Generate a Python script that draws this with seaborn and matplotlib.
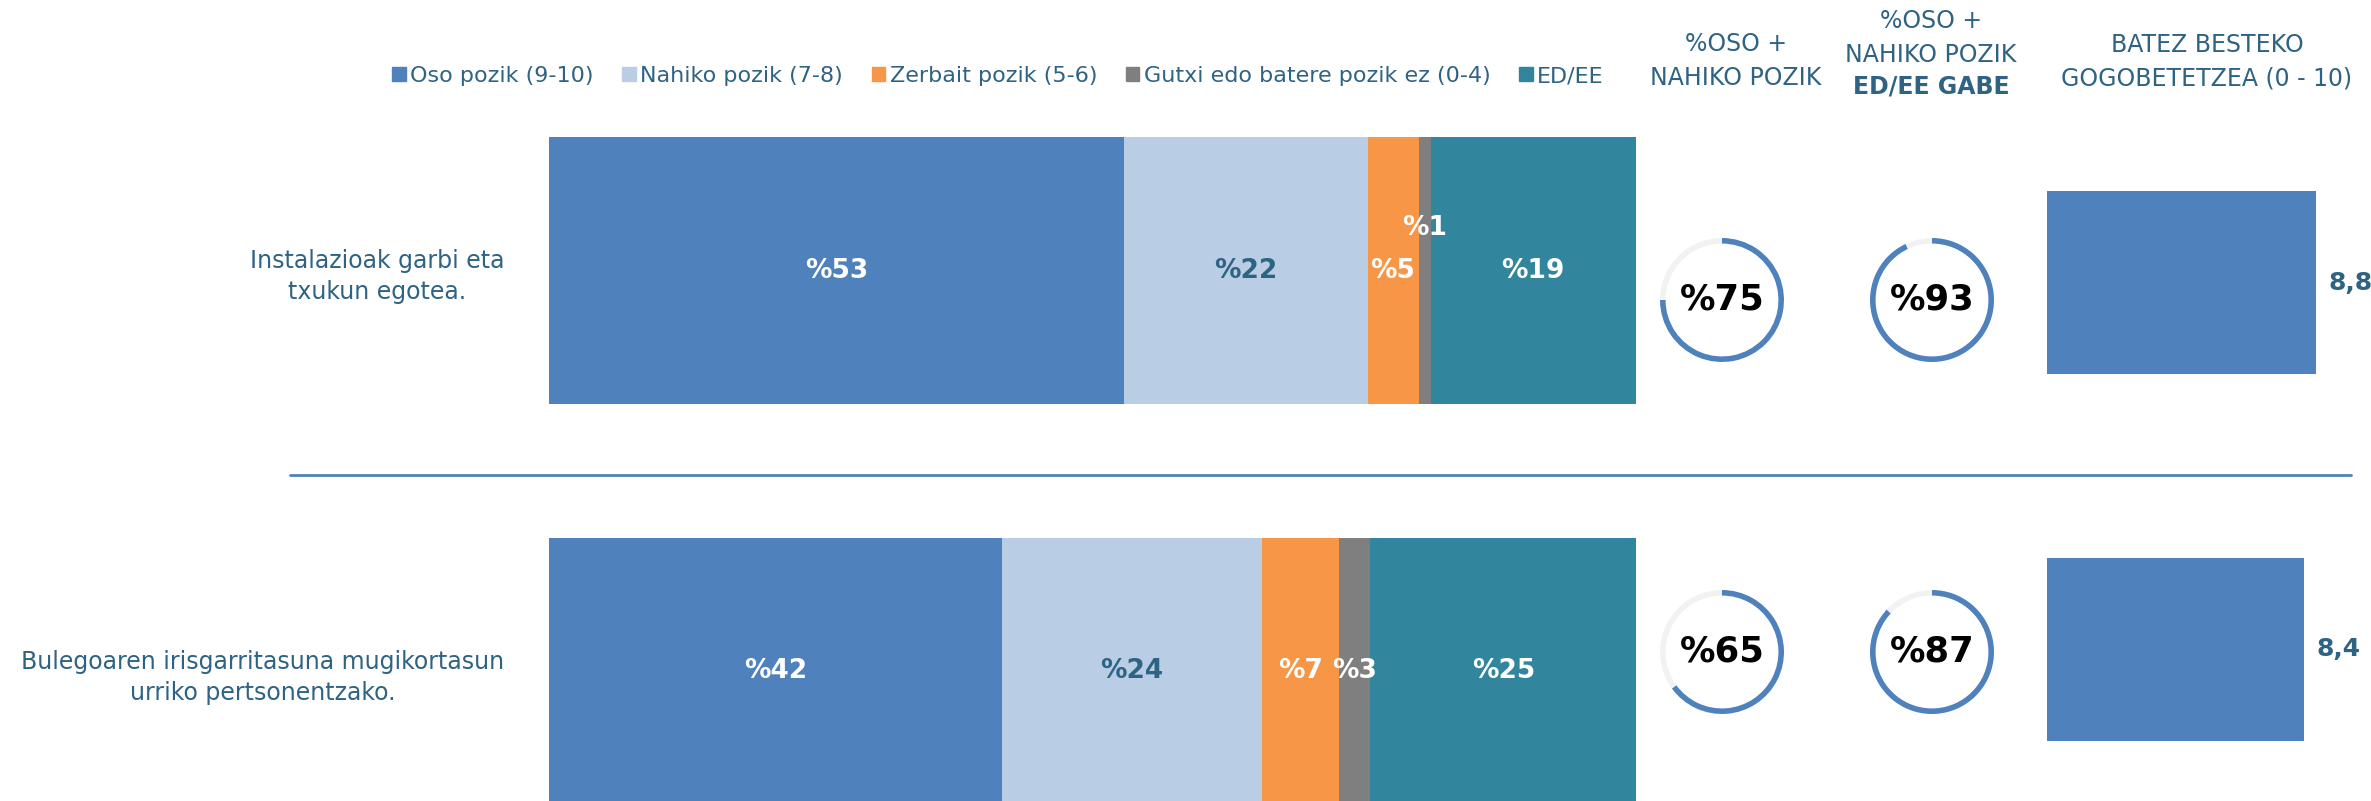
import numpy as np
import pandas as pd
import seaborn as sns
import matplotlib.pyplot as plt
from matplotlib.patches import Patch

# data
categories = ["Instalazioak garbi eta\ntxukun egotea.",
              "Bulegoaren irisgarritasuna mugikortasun\nurriko pertsonentzako."]
segments = ["Oso pozik (9-10)", "Nahiko pozik (7-8)", "Zerbait pozik (5-6)",
            "Gutxi edo batere pozik ez (0-4)", "ED/EE"]
oso = [52.9, 41.7]
nahiko = [22.4, 23.9]
zerbait = [4.7, 7.1]
gutxi = [1.1, 2.8]
ed_ee = [18.9, 24.6]
pct_oso_nahiko = [75, 65]
pct_gabe = [93, 87]
means = [8.8, 8.4]

colors = ["#4F81BD", "#B9CDE5", "#F79646", "#7F7F7F", "#31859C"]
label_colors = ["white", "#2E6384", "white", "white", "white"]
txt = "#2E6384"

W, H = 2371, 801
sns.set_theme(style="white")
plt.rcParams["font.family"] = ["DejaVu Sans"]

fig = plt.figure(figsize=(W / 100, H / 100), dpi=100)


def box(x0, y0, x1, y1):
    # pixel box -> figure fraction rect
    return [x0 / W, 1 - y1 / H, (x1 - x0) / W, (y1 - y0) / H]


df = pd.DataFrame({"cat": categories, "oso": oso, "nahiko": nahiko,
                   "zerbait": zerbait, "gutxi": gutxi, "ed_ee": ed_ee})
cols = ["oso", "nahiko", "zerbait", "gutxi", "ed_ee"]
cum = df[cols].cumsum(axis=1)

# stacked bars (cumulative totals drawn back to front)
ax = fig.add_axes(box(549, 0, 1636, H))
for k in range(len(cols) - 1, -1, -1):
    sns.barplot(x=cum[cols[k]], y=df["cat"], color=colors[k], saturation=1,
                width=0.666, linewidth=0, ax=ax, orient="h")
ax.set_xlim(0, 100)
ax.set_ylim((H - 270.5) / 401, -270.5 / 401)
ax.set_xlabel("")
ax.set_ylabel("")
ax.set_xticks([])
ax.tick_params(axis="y", length=0, pad=32, labelsize=17, labelcolor=txt)
for t in ax.get_yticklabels():
    t.set_multialignment("center")
    t.set_linespacing(1.35)
sns.despine(ax=ax, left=True, bottom=True)

for i in range(len(categories)):
    start = 0
    for k, c in enumerate(cols):
        v = df[c][i]
        yoff = -0.105 if (v < 2 and i == 0) else 0
        ax.text(start + v / 2, i + yoff, f"%{round(v)}", ha="center", va="center",
                color=label_colors[k], fontsize=19, fontweight="bold")
        start += v

# legend
handles = [Patch(color=c) for c in colors]
fig.legend(handles, segments, loc="center", bbox_to_anchor=(998 / W, 1 - 76 / H),
           ncol=5, frameon=False, fontsize=16, labelcolor=txt,
           handlelength=0.6, handleheight=0.6, handletextpad=0.2, columnspacing=1.3)

# headers
hkw = dict(ha="center", va="center", color=txt, fontsize=17, linespacing=1.5)
fig.text(1736 / W, 1 - 61 / H, "%OSO +\nNAHIKO POZIK", **hkw)
fig.text(1931 / W, 1 - 38 / H, "%OSO +\nNAHIKO POZIK", **hkw)
fig.text(1931 / W, 1 - 87 / H, "ED/EE GABE", ha="center", va="center",
         color=txt, fontsize=17, fontweight="bold")
fig.text(2207 / W, 1 - 62 / H, "BATEZ BESTEKO\nGOGOBETETZEA (0 - 10)", **hkw)

# donuts
centers_y = [300, 652]
for i in range(len(categories)):
    for cx, val in [(1722, pct_oso_nahiko[i]), (1932, pct_gabe[i])]:
        r = 62 * 1.25
        dax = fig.add_axes(box(cx - r, centers_y[i] - r, cx + r, centers_y[i] + r))
        dax.pie([val, 100 - val], colors=["#4F81BD", "#F2F2F2"], startangle=90,
                counterclock=False, wedgeprops=dict(width=0.09, linewidth=0))
        dax.text(0, 0, f"%{val}", ha="center", va="center", fontsize=25.5,
                 fontweight="bold", color="black")

# mean bars
mdf = pd.DataFrame({"cat": categories, "mean": means})
max_ = fig.add_axes(box(2047, 0, 2047 + 306, H))
sns.barplot(data=mdf, x="mean", y="cat", color="#4F81BD", saturation=1,
            width=0.499, linewidth=0, ax=max_, orient="h")
max_.set_xlim(0, 10)
max_.set_ylim((H - 282.5) / 367, -282.5 / 367)
max_.axis("off")
for i, v in enumerate(means):
    max_.text(v + 0.4, i, f"{v:.1f}".replace(".", ","), ha="left", va="center",
              color=txt, fontsize=18, fontweight="bold", clip_on=False)

# separator line
fig.add_artist(plt.Line2D([290 / W, 2351 / W], [1 - 475 / H, 1 - 475 / H],
                          color="#4F81BD", linewidth=2))

fig.savefig("out.png", dpi=100)
